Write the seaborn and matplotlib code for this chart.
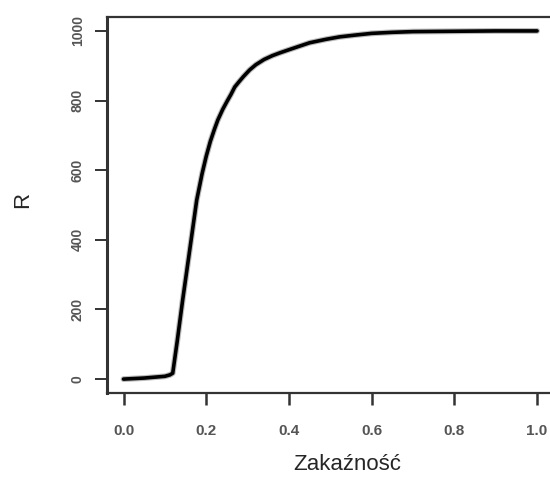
import pandas as pd
import matplotlib
matplotlib.use("Agg")
import matplotlib.pyplot as plt
import seaborn as sns

# ==========================================================
# Data
# ==========================================================

zakaznosc = [0.0, 0.05, 0.10, 0.112, 0.119, 0.13, 0.143, 0.16, 0.177, 0.19,
             0.20, 0.21, 0.22, 0.228, 0.24, 0.25, 0.26, 0.269, 0.28, 0.29,
             0.305, 0.32, 0.34, 0.36, 0.378, 0.40, 0.425, 0.45, 0.49, 0.523,
             0.56, 0.60, 0.65, 0.70, 0.80, 0.90, 1.0]
r_values = [0, 3, 8, 12, 17, 110, 227, 370, 514, 590,
            640, 683, 718, 744, 775, 797, 818, 839, 855, 869,
            888, 903, 918, 929, 937, 946, 956, 966, 976, 983,
            988, 993, 996, 998, 999, 1000, 1000]

x_ticks = [0.0, 0.2, 0.4, 0.6, 0.8, 1.0]
y_ticks = [0, 200, 400, 600, 800, 1000]

df = pd.DataFrame({"Zakaźność": zakaznosc, "R": r_values})

# ==========================================================
# Plot
# ==========================================================

sns.set_style("ticks")
plt.rcParams["font.family"] = ["Liberation Sans", "DejaVu Sans"]

fig = plt.figure(figsize=(5.5, 4.79), dpi=100)
ax = fig.add_axes([0.1945, 0.1795, 0.812, 0.785])

sns.lineplot(data=df, x="Zakaźność", y="R", ax=ax, color="#bbbbbb", linewidth=4.2,
             solid_joinstyle="round", solid_capstyle="round")
sns.lineplot(data=df, x="Zakaźność", y="R", ax=ax, color="black", linewidth=2.6,
             solid_joinstyle="round", solid_capstyle="round")

ax.set_xlim(-0.04, 1.04)
ax.set_ylim(-40, 1040)
ax.set_xticks(x_ticks)
ax.set_yticks(y_ticks)
ax.set_xticklabels(["%.1f" % v for v in x_ticks], fontweight="bold", color="#555555", fontsize=11)
ax.set_yticklabels([str(v) for v in y_ticks], fontweight="bold", color="#555555",
                   fontsize=10, rotation=90, va="center")

for side in ["left", "right", "top", "bottom"]:
    ax.spines[side].set_visible(True)
    ax.spines[side].set_color("#333333")
    ax.spines[side].set_linewidth(1.6)
ax.spines["left"].set_linewidth(2.2)

ax.tick_params(axis="x", length=8.5, width=1.8, color="#333333", pad=14)
ax.tick_params(axis="y", length=9, width=1.4, color="#333333", pad=7)

ax.set_xlabel("Zakaźność", fontsize=16)
ax.set_ylabel("R", fontsize=16)
ax.xaxis.set_label_coords(0.5375, -0.191)
ax.yaxis.set_label_coords(-0.188, 0.513)
ax.xaxis.label.set_va("center")
ax.yaxis.label.set_va("center")

plt.savefig("out.png", dpi=100)
